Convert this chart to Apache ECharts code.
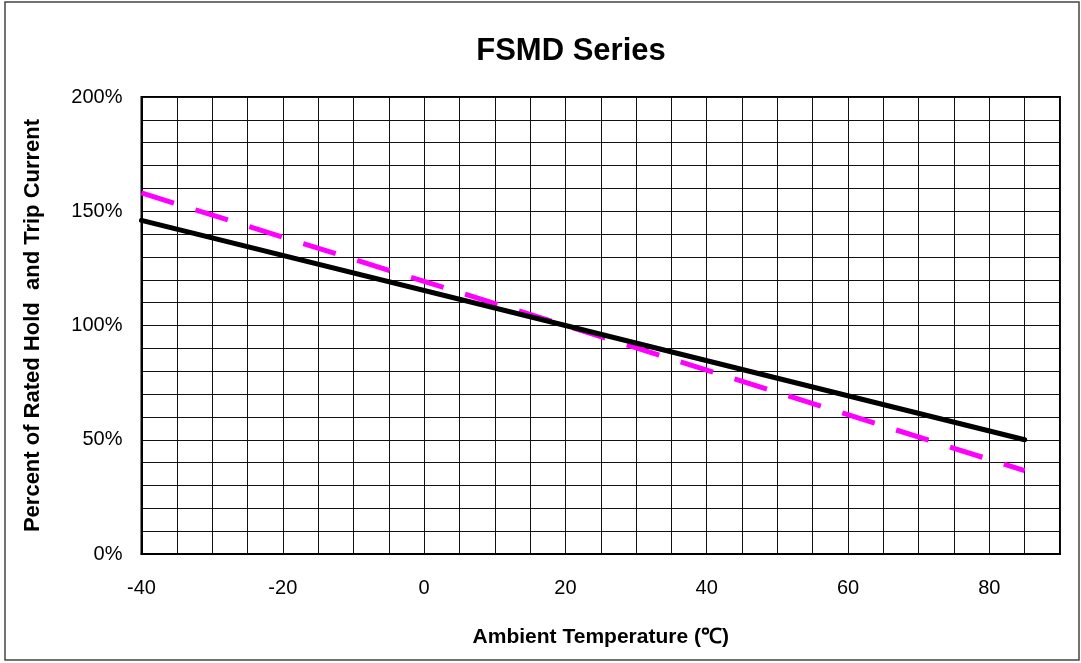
<!DOCTYPE html>
<html>
<head>
<meta charset="utf-8">
<script src="https://cdn.jsdelivr.net/npm/echarts@6/dist/echarts.min.js"></script>
<style>
html,body{margin:0;padding:0;background:#fff;}
#c{width:1081px;height:663px;}
</style>
</head>
<body>
<div id="c"></div>
<script>
var titleText = 'FSMD Series';
var xAxisName = 'Ambient Temperature (℃)';
var yAxisName = 'Percent of Rated Hold  and Trip Current';
var xMin = -40, xMax = 90, xStep = 5, xLabelStep = 20;
var yMin = 0, yMax = 200, yStep = 10, yLabelStep = 50;
var holdCurve = [[-40, 146], [20, 100], [85, 50]];
var tripCurve = [[-40, 158], [20, 100], [85, 36.5]];

var chart = echarts.init(document.getElementById('c'));
chart.setOption({
  backgroundColor: '#fff',
  animation: false,
  title: {
    text: titleText,
    left: 566,
    textAlign: 'center',
    top: 31,
    textStyle: {fontFamily: 'Liberation Sans', fontSize: 31, fontWeight: 'bold', color: '#000'}
  },
  graphic: [{
    type: 'rect',
    shape: {x: 5, y: 2, width: 1074, height: 658},
    style: {fill: 'none', stroke: '#444', lineWidth: 1.5},
    silent: true
  }],
  grid: {left: 141.5, right: 21, top: 97, bottom: 109, show: true, borderColor: '#000', borderWidth: 2},
  xAxis: {
    type: 'value', min: xMin, max: xMax, interval: xStep,
    name: xAxisName, nameLocation: 'middle', nameGap: 73,
    nameTextStyle: {fontFamily: 'Liberation Sans', fontSize: 21, fontWeight: 'bold', color: '#000'},
    axisLine: {show: true, onZero: false, lineStyle: {color: '#000', width: 2}},
    axisTick: {show: false},
    axisLabel: {
      fontFamily: 'Liberation Sans', fontSize: 20, color: '#000', margin: 24,
      formatter: function (v) { return ((v - xMin) % xLabelStep === 0 && v <= 80) ? String(v) : ''; }
    },
    splitLine: {show: true, lineStyle: {color: '#111', width: 1}}
  },
  yAxis: {
    type: 'value', min: yMin, max: yMax, interval: yStep,
    name: yAxisName, nameLocation: 'middle', nameGap: 98, nameRotate: 90,
    nameTextStyle: {fontFamily: 'Liberation Sans', fontSize: 22, fontWeight: 'bold', color: '#000'},
    axisLine: {show: true, onZero: false, lineStyle: {color: '#000', width: 2}},
    axisTick: {show: false},
    axisLabel: {
      fontFamily: 'Liberation Sans', fontSize: 20, color: '#000', margin: 19,
      formatter: function (v) { return (v % yLabelStep === 0) ? v + '%' : ''; }
    },
    splitLine: {show: true, lineStyle: {color: '#111', width: 1}}
  },
  series: [{
    type: 'line', data: tripCurve, showSymbol: false, symbol: 'none',
    lineStyle: {color: '#ff00ff', width: 5, type: [34, 22.5], cap: 'butt'},
    z: 3
  }, {
    type: 'line', data: holdCurve, showSymbol: false, symbol: 'none',
    lineStyle: {color: '#000', width: 5, cap: 'round'},
    z: 4
  }]
});
</script>
</body>
</html>
